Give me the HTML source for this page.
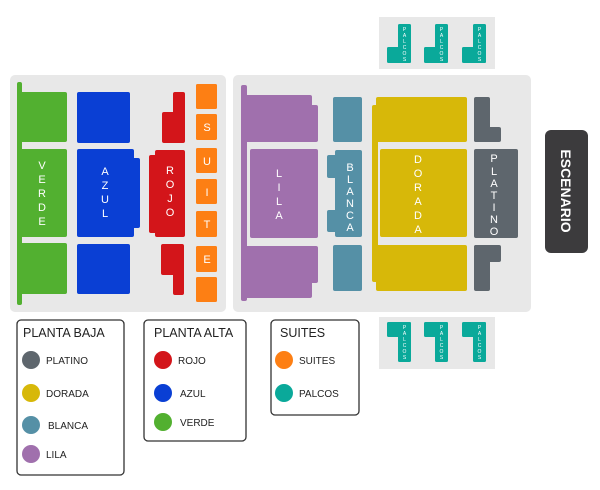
<!DOCTYPE html>
<html><head><meta charset="utf-8"><style>
html,body{margin:0;padding:0;background:#fff;width:600px;height:490px;overflow:hidden}
svg{display:block}
text{font-family:"Liberation Sans","DejaVu Sans",sans-serif}
.w{fill:#fff;font-size:11px;text-anchor:middle}
.lg{fill:#222;font-size:10px}
.tt{fill:#222;font-size:12.5px}
</style></head><body>
<svg width="600" height="490" viewBox="0 0 600 490" xmlns="http://www.w3.org/2000/svg">
<!-- panels -->
<rect x="10" y="75" width="216" height="237" rx="5" fill="#e8e8e8"/>
<rect x="233" y="75" width="298" height="237" rx="5" fill="#e8e8e8"/>
<rect x="379" y="17" width="116" height="52" fill="#e8e8e8"/>
<rect x="379" y="317" width="116" height="52" fill="#e8e8e8"/>

<!-- VERDE -->
<g fill="#52b030">
<rect x="17" y="82" width="5" height="223" rx="2"/>
<rect x="19" y="92" width="48" height="50" rx="2"/>
<rect x="19" y="149" width="48" height="88" rx="2"/>
<rect x="19" y="243" width="48" height="51" rx="2"/>
</g>
<g class="w"><text x="42" y="169">V</text><text x="42" y="183">E</text><text x="42" y="197">R</text><text x="42" y="211">D</text><text x="42" y="225">E</text></g>

<!-- AZUL -->
<g fill="#0a3fd4">
<rect x="77" y="92" width="53" height="51" rx="2"/>
<rect x="77" y="149" width="57" height="88" rx="2"/>
<rect x="130" y="158" width="10" height="70" rx="2"/>
<rect x="77" y="244" width="53" height="50" rx="2"/>
</g>
<g class="w" font-size="12"><text x="105" y="175">A</text><text x="105" y="189">Z</text><text x="105" y="203">U</text><text x="105" y="217">L</text></g>

<!-- ROJO -->
<g fill="#d3151a">
<rect x="173" y="92" width="12" height="30" rx="2"/>
<rect x="162" y="112" width="23" height="31" rx="2"/>
<rect x="155" y="150" width="30" height="87" rx="2"/>
<rect x="149" y="155" width="10" height="78" rx="2"/>
<rect x="161" y="244" width="23" height="31" rx="2"/>
<rect x="173" y="260" width="11" height="35" rx="2"/>
</g>
<g class="w"><text x="170" y="174">R</text><text x="170" y="188">O</text><text x="170" y="202">J</text><text x="170" y="216">O</text></g>

<!-- SUITES -->
<g fill="#fd7f14">
<rect x="196" y="84" width="21" height="25" rx="1.5"/>
<rect x="196" y="114" width="21" height="26" rx="1.5"/>
<rect x="196" y="148" width="21" height="25" rx="1.5"/>
<rect x="196" y="179" width="21" height="25" rx="1.5"/>
<rect x="196" y="211" width="21" height="26" rx="1.5"/>
<rect x="196" y="246" width="21" height="26" rx="1.5"/>
<rect x="196" y="277" width="21" height="25" rx="1.5"/>
</g>
<g class="w"><text x="207" y="131">S</text><text x="207" y="165">U</text><text x="207" y="196">I</text><text x="207" y="228">T</text><text x="207" y="263">E</text></g>

<!-- LILA -->
<g fill="#a070ad">
<rect x="241" y="85" width="6" height="216" rx="2"/>
<rect x="243" y="95" width="69" height="47" rx="2"/>
<rect x="300" y="105" width="18" height="37" rx="2"/>
<rect x="250" y="149" width="68" height="89" rx="2"/>
<rect x="243" y="246" width="75" height="37" rx="2"/>
<rect x="243" y="260" width="69" height="38" rx="2"/>
</g>
<g class="w"><text x="279" y="177">L</text><text x="279" y="191">I</text><text x="279" y="205">L</text><text x="279" y="219">A</text></g>

<!-- BLANCA -->
<g fill="#5590a6">
<rect x="333" y="97" width="29" height="45" rx="2"/>
<rect x="335" y="150" width="27" height="87" rx="2"/>
<rect x="327" y="155" width="12" height="23" rx="2"/>
<rect x="327" y="210" width="12" height="22" rx="2"/>
<rect x="333" y="245" width="29" height="46" rx="2"/>
</g>
<g class="w" font-size="10"><text x="350" y="171">B</text><text x="350" y="183">L</text><text x="350" y="195">A</text><text x="350" y="207">N</text><text x="350" y="219">C</text><text x="350" y="231">A</text></g>

<!-- DORADA -->
<g fill="#d7b809">
<rect x="372" y="105" width="6" height="177" rx="2"/>
<rect x="376" y="97" width="91" height="45" rx="2"/>
<rect x="380" y="149" width="87" height="88" rx="2"/>
<rect x="376" y="245" width="91" height="46" rx="2"/>
</g>
<g class="w" font-size="12"><text x="418" y="163">D</text><text x="418" y="177">O</text><text x="418" y="191">R</text><text x="418" y="205">A</text><text x="418" y="219">D</text><text x="418" y="233">A</text></g>

<!-- PLATINO -->
<g fill="#5e666d">
<rect x="474" y="97" width="16" height="45" rx="2"/>
<rect x="474" y="127" width="27" height="15" rx="2"/>
<rect x="474" y="149" width="44" height="89" rx="2"/>
<rect x="474" y="245" width="27" height="17" rx="2"/>
<rect x="474" y="245" width="16" height="46" rx="2"/>
</g>
<g class="w" font-size="10"><text x="494" y="162">P</text><text x="494" y="175">L</text><text x="494" y="187">A</text><text x="494" y="199">T</text><text x="494" y="211">I</text><text x="494" y="223">N</text><text x="494" y="235">O</text></g>

<!-- ESCENARIO -->
<rect x="545" y="130" width="43" height="123" rx="6" fill="#3c3b3d"/>
<text x="0" y="0" transform="translate(561,191) rotate(90)" fill="#fff" font-size="14" font-weight="bold" text-anchor="middle">ESCENARIO</text>

<!-- PALCOS top -->
<g fill="#0aa99a">
<rect x="398" y="24" width="13" height="39" rx="1.5"/><rect x="387" y="47" width="24" height="16" rx="1.5"/>
<rect x="435" y="24" width="13" height="39" rx="1.5"/><rect x="424" y="47" width="24" height="16" rx="1.5"/>
<rect x="473" y="24" width="13" height="39" rx="1.5"/><rect x="462" y="47" width="24" height="16" rx="1.5"/>
</g>
<g fill="#fff" font-size="5" text-anchor="middle">
<text x="404.5" y="31">P</text><text x="404.5" y="37">A</text><text x="404.5" y="43">L</text><text x="404.5" y="49">C</text><text x="404.5" y="55">O</text><text x="404.5" y="61">S</text>
<text x="441.5" y="31">P</text><text x="441.5" y="37">A</text><text x="441.5" y="43">L</text><text x="441.5" y="49">C</text><text x="441.5" y="55">O</text><text x="441.5" y="61">S</text>
<text x="479.5" y="31">P</text><text x="479.5" y="37">A</text><text x="479.5" y="43">L</text><text x="479.5" y="49">C</text><text x="479.5" y="55">O</text><text x="479.5" y="61">S</text>
</g>
<!-- PALCOS bottom -->
<g fill="#0aa99a">
<rect x="398" y="322" width="13" height="40" rx="1.5"/><rect x="387" y="322" width="24" height="15" rx="1.5"/>
<rect x="435" y="322" width="13" height="40" rx="1.5"/><rect x="424" y="322" width="24" height="15" rx="1.5"/>
<rect x="473" y="322" width="13" height="40" rx="1.5"/><rect x="462" y="322" width="24" height="15" rx="1.5"/>
</g>
<g fill="#fff" font-size="5" text-anchor="middle">
<text x="404.5" y="329">P</text><text x="404.5" y="335">A</text><text x="404.5" y="341">L</text><text x="404.5" y="347">C</text><text x="404.5" y="353">O</text><text x="404.5" y="359">S</text>
<text x="441.5" y="329">P</text><text x="441.5" y="335">A</text><text x="441.5" y="341">L</text><text x="441.5" y="347">C</text><text x="441.5" y="353">O</text><text x="441.5" y="359">S</text>
<text x="479.5" y="329">P</text><text x="479.5" y="335">A</text><text x="479.5" y="341">L</text><text x="479.5" y="347">C</text><text x="479.5" y="353">O</text><text x="479.5" y="359">S</text>
</g>

<!-- LEGENDS -->
<g fill="none" stroke="#333" stroke-width="1.3">
<rect x="17" y="320" width="107" height="155" rx="4"/>
<rect x="144" y="320" width="102" height="121" rx="4"/>
<rect x="271" y="320" width="88" height="95" rx="4"/>
</g>
<text class="tt" x="23" y="337">PLANTA BAJA</text>
<circle cx="31" cy="360" r="9" fill="#5e666d"/><text class="lg" x="46" y="364">PLATINO</text>
<circle cx="31" cy="393" r="9" fill="#d7b809"/><text class="lg" x="46" y="397">DORADA</text>
<circle cx="31" cy="425" r="9" fill="#5590a6"/><text class="lg" x="48" y="429">BLANCA</text>
<circle cx="31" cy="454" r="9" fill="#a070ad"/><text class="lg" x="46" y="458">LILA</text>

<text class="tt" x="154" y="337">PLANTA ALTA</text>
<circle cx="163" cy="360" r="9" fill="#d3151a"/><text class="lg" x="178" y="364">ROJO</text>
<circle cx="163" cy="393" r="9" fill="#0a3fd4"/><text class="lg" x="180" y="397">AZUL</text>
<circle cx="163" cy="422" r="9" fill="#52b030"/><text class="lg" x="180" y="426">VERDE</text>

<text class="tt" x="280" y="337">SUITES</text>
<circle cx="284" cy="360" r="9" fill="#fd7f14"/><text class="lg" x="299" y="364">SUITES</text>
<circle cx="284" cy="393" r="9" fill="#0aa99a"/><text class="lg" x="299" y="397">PALCOS</text>
</svg>
</body></html>
